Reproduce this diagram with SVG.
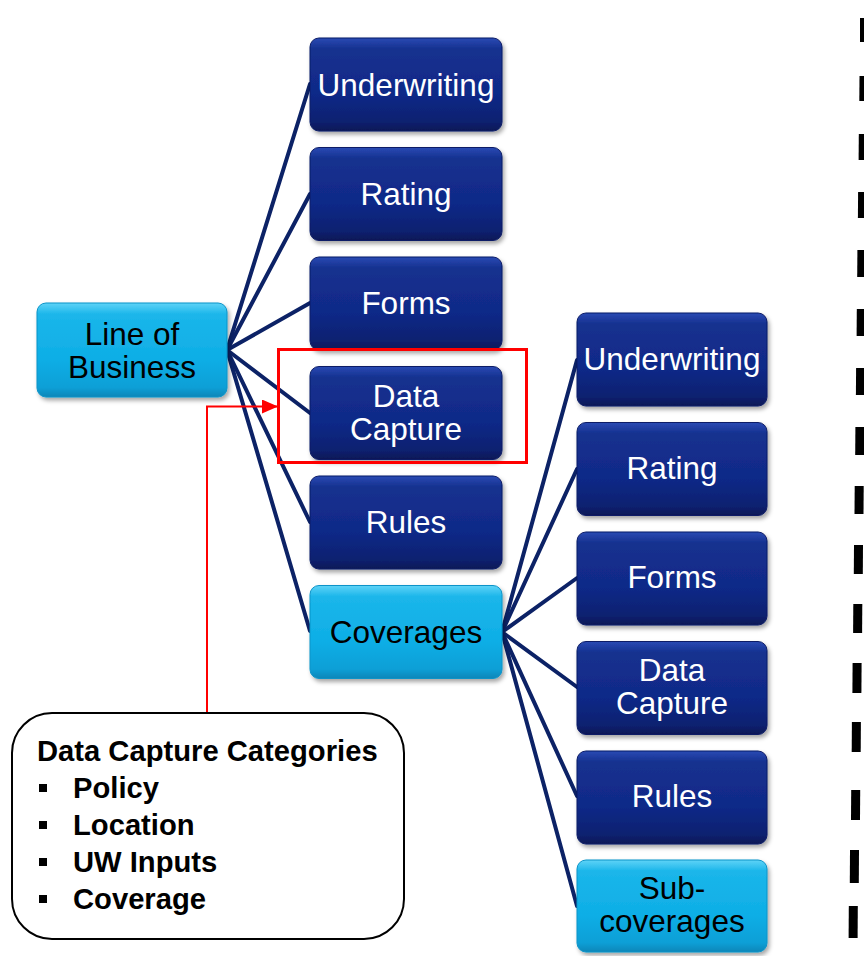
<svg xmlns="http://www.w3.org/2000/svg" width="864" height="956" viewBox="0 0 864 956">
  <defs>
    <linearGradient id="gDark" x1="0" y1="0" x2="0" y2="1">
      <stop offset="0" stop-color="#2a4ab4"/>
      <stop offset="0.12" stop-color="#15318f"/>
      <stop offset="0.6" stop-color="#102988"/>
      <stop offset="0.9" stop-color="#0c2170"/>
      <stop offset="1" stop-color="#081856"/>
    </linearGradient>
    <linearGradient id="gLight" x1="0" y1="0" x2="0" y2="1">
      <stop offset="0" stop-color="#5fd3f7"/>
      <stop offset="0.12" stop-color="#1bb6ea"/>
      <stop offset="0.6" stop-color="#0eaee6"/>
      <stop offset="0.9" stop-color="#0b9fd6"/>
      <stop offset="1" stop-color="#0886b8"/>
    </linearGradient>
    <filter id="shadow" x="-10%" y="-10%" width="125%" height="130%">
      <feDropShadow dx="2" dy="3" stdDeviation="2.2" flood-color="#000" flood-opacity="0.35"/>
    </filter>
    <marker id="redArrow" markerWidth="16" markerHeight="14" refX="15" refY="7" orient="auto" markerUnits="userSpaceOnUse">
      <polygon points="0,0 16,7 0,14" fill="#ff0000"/>
    </marker>
    <style>
      .dark rect { fill: url(#gDark); stroke: #0a1c66; stroke-width: 1; filter: url(#shadow); }
      .light rect { fill: url(#gLight); stroke: #0a93c8; stroke-width: 1; filter: url(#shadow); }
      .dark text { fill: #ffffff; }
      .light text { fill: #000000; }
      text { font-family: "Liberation Sans", Arial, sans-serif; font-size: 31.5px; text-anchor: middle; }
      .conn line { stroke: #0c2266; stroke-width: 4; stroke-linecap: round; }
      .callout text { font-weight: bold; font-size: 29.2px; text-anchor: start; fill: #000; }
      .bullet { fill: #000; }
      .dash { fill: #000; }
    </style>
  </defs>

  <rect width="864" height="956" fill="#ffffff"/>

  <!-- connectors -->
  <g id="connectors" class="conn">
    <line x1="227" y1="350" x2="310" y2="84"/>
    <line x1="227" y1="350" x2="310" y2="194"/>
    <line x1="227" y1="350" x2="310" y2="303"/>
    <line x1="227" y1="350" x2="310" y2="413"/>
    <line x1="227" y1="350" x2="310" y2="522"/>
    <line x1="227" y1="350" x2="310" y2="631"/>
    <line x1="502" y1="632" x2="577" y2="360"/>
    <line x1="502" y1="632" x2="577" y2="469"/>
    <line x1="502" y1="632" x2="577" y2="578"/>
    <line x1="502" y1="632" x2="577" y2="687"/>
    <line x1="502" y1="632" x2="577" y2="796"/>
    <line x1="502" y1="632" x2="577" y2="906"/>
  </g>

  <!-- root -->
  <g id="line-of-business" class="light">
    <rect x="37" y="303" width="190" height="94" rx="9"/>
    <text x="132" y="345">Line of</text>
    <text x="132" y="378">Business</text>
  </g>

  <!-- line of business children -->
  <g id="lob-underwriting" class="dark">
    <rect x="310" y="38" width="192" height="93" rx="9"/>
    <text x="406" y="96">Underwriting</text>
  </g>
  <g id="lob-rating" class="dark">
    <rect x="310" y="147.5" width="192" height="93" rx="9"/>
    <text x="406" y="205">Rating</text>
  </g>
  <g id="lob-forms" class="dark">
    <rect x="310" y="257" width="192" height="93" rx="9"/>
    <text x="406" y="314">Forms</text>
  </g>
  <g id="lob-data-capture" class="dark">
    <rect x="310" y="366.5" width="192" height="93" rx="9"/>
    <text x="406" y="407">Data</text>
    <text x="406" y="440">Capture</text>
  </g>
  <g id="lob-rules" class="dark">
    <rect x="310" y="476" width="192" height="93" rx="9"/>
    <text x="406" y="533">Rules</text>
  </g>
  <g id="coverages" class="light">
    <rect x="310" y="585.5" width="192" height="93" rx="9"/>
    <text x="406" y="643">Coverages</text>
  </g>

  <!-- coverage children -->
  <g id="cov-underwriting" class="dark">
    <rect x="577" y="313" width="190" height="93" rx="9"/>
    <text x="672" y="370">Underwriting</text>
  </g>
  <g id="cov-rating" class="dark">
    <rect x="577" y="422.5" width="190" height="93" rx="9"/>
    <text x="672" y="479">Rating</text>
  </g>
  <g id="cov-forms" class="dark">
    <rect x="577" y="532" width="190" height="93" rx="9"/>
    <text x="672" y="588">Forms</text>
  </g>
  <g id="cov-data-capture" class="dark">
    <rect x="577" y="641.5" width="190" height="93" rx="9"/>
    <text x="672" y="681">Data</text>
    <text x="672" y="714">Capture</text>
  </g>
  <g id="cov-rules" class="dark">
    <rect x="577" y="751" width="190" height="93" rx="9"/>
    <text x="672" y="807">Rules</text>
  </g>
  <g id="sub-coverages" class="light">
    <rect x="577" y="860" width="190" height="92" rx="9"/>
    <text x="672" y="899">Sub-</text>
    <text x="672" y="932">coverages</text>
  </g>

  <!-- highlight frame and callout link -->
  <g id="highlight">
    <rect x="278.5" y="349.5" width="248" height="113" fill="none" stroke="#ff0000" stroke-width="3"/>
    <path d="M207 713 V406.5 H277" fill="none" stroke="#ff0000" stroke-width="2" marker-end="url(#redArrow)"/>
  </g>

  <!-- callout -->
  <g id="callout" class="callout">
    <rect x="12" y="713" width="392" height="226" rx="40" fill="#ffffff" stroke="#000" stroke-width="2"/>
    <text x="37" y="761">Data Capture Categories</text>
    <rect class="bullet" x="39" y="784" width="8" height="8"/>
    <text x="73" y="798">Policy</text>
    <rect class="bullet" x="39" y="821" width="8" height="8"/>
    <text x="73" y="835">Location</text>
    <rect class="bullet" x="39" y="858" width="8" height="8"/>
    <text x="73" y="872">UW Inputs</text>
    <rect class="bullet" x="39" y="895" width="8" height="8"/>
    <text x="73" y="909">Coverage</text>
  </g>

  <!-- dashed divider at the right edge -->
  <g id="divider">
    <polygon class="dash" points="860,18 869,18 869,42 860,42"/>
    <polygon class="dash" points="859.5,76 868.5,76 868.3,101 859.3,101"/>
    <polygon class="dash" points="858.8,134 867.8,134 867.6,160 858.6,160"/>
    <polygon class="dash" points="858.1,192 867.1,192 866.9,218 857.9,218"/>
    <polygon class="dash" points="857.4,250 866.4,250 866.2,277 857.2,277"/>
    <polygon class="dash" points="856.8,309 865.8,309 865.6,336 856.6,336"/>
    <polygon class="dash" points="856.1,368 865.1,368 864.9,395 855.9,395"/>
    <polygon class="dash" points="855.4,427 864.4,427 864.2,455 855.2,455"/>
    <polygon class="dash" points="854.7,486 863.7,486 863.5,514 854.5,514"/>
    <polygon class="dash" points="854.0,545 863.0,545 862.8,574 853.8,574"/>
    <polygon class="dash" points="853.3,604 862.3,604 862.1,633 853.1,633"/>
    <polygon class="dash" points="852.6,663 861.6,663 861.4,693 852.4,693"/>
    <polygon class="dash" points="851.9,722 860.9,722 860.7,752 851.7,752"/>
    <polygon class="dash" points="851.2,790 860.2,790 860.0,820 851.0,820"/>
    <polygon class="dash" points="850.0,850 859.0,850 858.8,883 849.8,883"/>
    <polygon class="dash" points="848.8,906 857.8,906 857.6,938 848.6,938"/>
  </g>
</svg>
